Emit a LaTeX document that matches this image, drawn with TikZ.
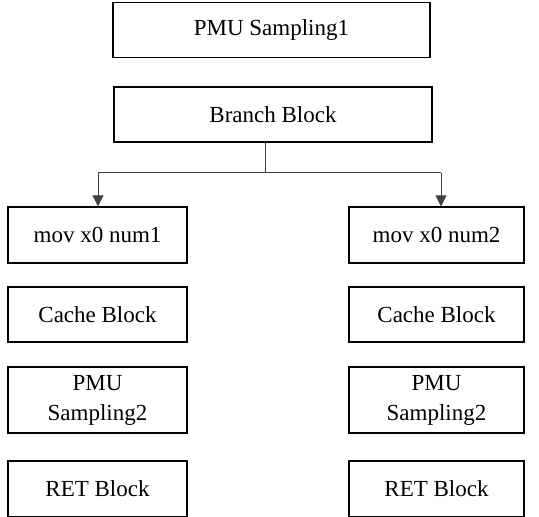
\documentclass[tikz,border=0pt]{standalone}
\usepackage{fontspec}
\newfontfamily\blkfont{Liberation Serif}
\usepackage{tikz}
\usetikzlibrary{arrows.meta}
\tikzset{
  blk/.style={draw, line width=0.7pt, rectangle, inner sep=0pt, align=center,
    font=\blkfont\fontsize{11.5}{15}\selectfont},
  lcol/.style={blk, minimum width=89.5pt, minimum height=28pt},
  rcol/.style={blk, minimum width=87.5pt, minimum height=28pt},
  wire/.style={draw=black!75, line width=0.5pt},
  arr/.style={wire, -{Triangle[length=5.5pt, width=5.5pt]}}
}

\begin{document}
\begin{tikzpicture}[x=0.5pt, y=-0.5pt]
    \useasboundingbox (0,0) rectangle (539,517);
    % top of the flow
    \node[blk, minimum width=158.5pt, minimum height=27.5pt] (pmu1) at (271.5,30) {PMU Sampling1};
    \node[blk, minimum width=159pt, minimum height=27.5pt] (branch) at (273,114.5) {Branch Block};
    % left path
    \node[lcol] (mov1) at (97.5,235) {mov x0 num1};
    \node[lcol, minimum height=27.5pt] (cache1) at (97.5,314.5) {Cache Block};
    \node[lcol, minimum height=33pt] (samp1) at (97.5,400) {PMU\\Sampling2};
    \node[lcol] (ret1) at (97.5,489) {RET Block};
    % right path
    \node[rcol] (mov2) at (436.5,235) {mov x0 num2};
    \node[rcol, minimum height=27.5pt] (cache2) at (436.5,314.5) {Cache Block};
    \node[rcol, minimum height=33pt] (samp2) at (436.5,400) {PMU\\Sampling2};
    \node[rcol] (ret2) at (436.5,489) {RET Block};
    % branch split
    \coordinate (split) at (265,173);
    \coordinate (lhead) at (98,173);
    \coordinate (rhead) at (441,173);
    \draw[wire] (branch.south -| split) -- (split);
    \draw[wire] (lhead) -- (rhead);
    \draw[arr] (lhead) -- (lhead |- mov1.north);
    \draw[arr] (rhead) -- (rhead |- mov2.north);
\end{tikzpicture}
\end{document}
